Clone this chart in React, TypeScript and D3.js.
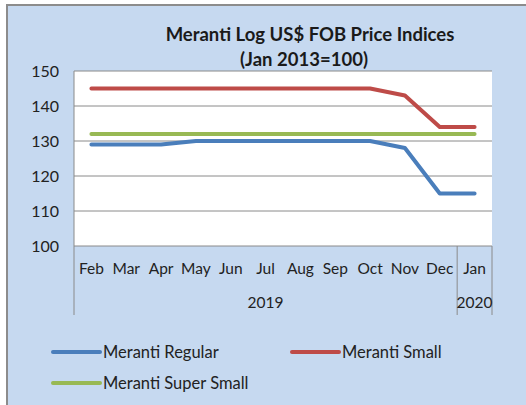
import React from "react";
import * as d3 from "d3";

const months = ["Feb", "Mar", "Apr", "May", "Jun", "Jul", "Aug", "Sep", "Oct", "Nov", "Dec", "Jan"];
const years = [
  { label: "2019", start: 0, end: 11 },
  { label: "2020", start: 11, end: 12 },
];
const regular = [129, 129, 129, 130, 130, 130, 130, 130, 130, 128, 115, 115];
const small = [145, 145, 145, 145, 145, 145, 145, 145, 145, 143, 134, 134];
const superSmall = [132, 132, 132, 132, 132, 132, 132, 132, 132, 132, 132, 132];
const yTicks = [100, 110, 120, 130, 140, 150];

const series = [
  { name: "Meranti Regular", values: regular, color: "#4a7ebb" },
  { name: "Meranti Small", values: small, color: "#be4b48" },
  { name: "Meranti Super Small", values: superSmall, color: "#98b954" },
];

const W = 526;
const H = 405;
const plot = { left: 74, right: 492, top: 71, bottom: 246 };
const FONT = "Lato, 'Open Sans', sans-serif";

export default function App() {
  const x = d3.scaleBand<number>().domain(d3.range(months.length)).range([plot.left, plot.right]).padding(0);
  const y = d3.scaleLinear().domain([100, 150]).range([plot.bottom, plot.top]);
  const line = d3
    .line<number>()
    .x((_, i) => (x(i) as number) + x.bandwidth() / 2)
    .y((d) => y(d));
  const edge = (i: number) => plot.left + i * x.step();

  const legendItems = [
    { s: series[0], lx: 53, ly: 352 },
    { s: series[1], lx: 292, ly: 352 },
    { s: series[2], lx: 53, ly: 383 },
  ];

  return (
    <svg width={W} height={H} style={{ position: "absolute", left: 0, top: 0 }} fontFamily={FONT}>
      <rect x={0} y={0} width={W} height={H} fill="#ffffff" />
      <rect x={7} y={5} width={540} height={420} fill="#c6d9f0" stroke="#8c8c8c" strokeWidth={2} />
      <text x={310} y={41} textAnchor="middle" fontSize={18.5} fontWeight="bold" fill="#1a1a1a">
        Meranti Log US$ FOB Price Indices
      </text>
      <text x={304} y={66} textAnchor="middle" fontSize={18.5} fontWeight="bold" fill="#1a1a1a">
        (Jan 2013=100)
      </text>
      <rect x={plot.left} y={plot.top} width={plot.right - plot.left} height={plot.bottom - plot.top} fill="#ffffff" />
      {yTicks.map((t) => (
        <g key={t}>
          {t > 100 && (
            <line x1={plot.left} x2={plot.right} y1={y(t)} y2={y(t)} stroke="#8a8a8a" strokeWidth={1} />
          )}
          <text x={59} y={y(t)} dy="0.35em" textAnchor="end" fontSize={16} fill="#222">
            {t}
          </text>
        </g>
      ))}
      <line x1={plot.left} x2={plot.right} y1={plot.bottom} y2={plot.bottom} stroke="#8a8a8a" strokeWidth={1} />
      <line x1={plot.left} x2={plot.left} y1={plot.top} y2={315} stroke="#8a8a8a" strokeWidth={1} />
      {years.map((yr) => (
        <g key={yr.label}>
          <line x1={edge(yr.end)} x2={edge(yr.end)} y1={plot.bottom} y2={315} stroke="#8a8a8a" strokeWidth={1} />
          <text
            x={(edge(yr.start) + edge(yr.end)) / 2}
            y={303}
            dy="0.35em"
            textAnchor="middle"
            fontSize={15.5}
            fill="#222"
          >
            {yr.label}
          </text>
        </g>
      ))}
      {months.map((m, i) => (
        <text
          key={i}
          x={(x(i) as number) + x.bandwidth() / 2}
          y={269}
          dy="0.35em"
          textAnchor="middle"
          fontSize={15.5}
          fill="#222"
        >
          {m}
        </text>
      ))}
      {series.map((s) => (
        <path
          key={s.name}
          d={line(s.values) || ""}
          fill="none"
          stroke={s.color}
          strokeWidth={4}
          strokeLinejoin="round"
          strokeLinecap="round"
        />
      ))}
      {legendItems.map(({ s, lx, ly }) => (
        <g key={s.name}>
          <line x1={lx} x2={lx + 47} y1={ly} y2={ly} stroke={s.color} strokeWidth={4} strokeLinecap="round" />
          <text x={lx + 50} y={ly} dy="0.35em" fontSize={16.5} fill="#222">
            {s.name}
          </text>
        </g>
      ))}
    </svg>
  );
}
